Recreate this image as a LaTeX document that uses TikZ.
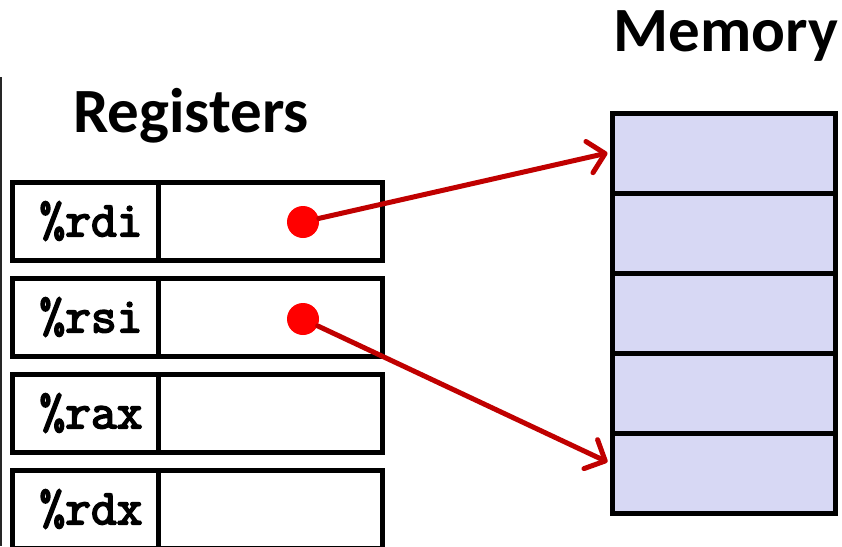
\documentclass[tikz,border=0pt]{standalone}
\usepackage{fontspec}
\usetikzlibrary{arrows.meta}
\newfontfamily\titlefont{Carlito}
\newfontfamily\regfont{Latin Modern Mono}[AutoFakeBold=3.5]
\definecolor{memfill}{RGB}{215,216,244}
\definecolor{arrowred}{RGB}{192,0,0}
\definecolor{dotred}{RGB}{255,0,0}
\tikzset{
  title/.style={font=\titlefont\bfseries\fontsize{63}{70}\selectfont, inner sep=0pt, anchor=base},
  regname/.style={draw=black, line width=5pt, minimum width=146pt, minimum height=78pt, inner sep=0pt},
  regtext/.style={inner sep=0pt, font=\regfont\bfseries\fontsize{50}{54}\selectfont},
  regval/.style={draw=black, line width=5pt, minimum width=224pt, minimum height=78pt, inner sep=0pt},
  memcell/.style={draw=black, line width=5pt, fill=memfill, minimum width=223pt, minimum height=80pt, inner sep=0pt},
  ptrdot/.style={circle, fill=dotred, minimum size=32pt, inner sep=0pt},
  ptr/.style={draw=arrowred, line width=5pt, line cap=round,
    -{Straight Barb[length=16pt, width=32pt, line width=5pt, round]}}
}
\begin{document}
\begin{tikzpicture}[x=1pt, y=-1pt]
\useasboundingbox (0,0) rectangle (842,546);
\draw[line width=2pt, black!85] (1,77) -- (1,546);
\node[title] (regtitle) at (191,132) {Registers};
\node[title] (memtitle) at (726,51) {Memory};
% registers
\node[regval] (v1) at (270,221) {};
\node[regname] (r1) at (85,221) {};
\node[regtext] (r1t) at ([xshift=6pt]r1.center) {\%rdi};
\node[regval] (v2) at (270,317) {};
\node[regname] (r2) at (85,317) {};
\node[regtext] (r2t) at ([xshift=6pt]r2.center) {\%rsi};
\node[regval] (v3) at (270,413) {};
\node[regname] (r3) at (85,413) {};
\node[regtext] (r3t) at ([xshift=6pt]r3.center) {\%rax};
\node[regval] (v4) at (270,509) {};
\node[regname] (r4) at (85,509) {};
\node[regtext] (r4t) at ([xshift=6pt]r4.center) {\%rdx};
% memory
\node[memcell] (m1) at (723.5,153) {};
\node[memcell] (m2) at (723.5,233) {};
\node[memcell] (m3) at (723.5,313) {};
\node[memcell] (m4) at (723.5,393) {};
\node[memcell] (m5) at (723.5,473) {};
% pointers
\node[ptrdot] (d1) at (303,222) {};
\node[ptrdot] (d2) at (303,319) {};
\draw[ptr] (d1) -- ([xshift=-2pt]m1.west);
\draw[ptr] (d2) -- ([xshift=-2pt,yshift=11pt]m5.west);
\end{tikzpicture}
\end{document}
